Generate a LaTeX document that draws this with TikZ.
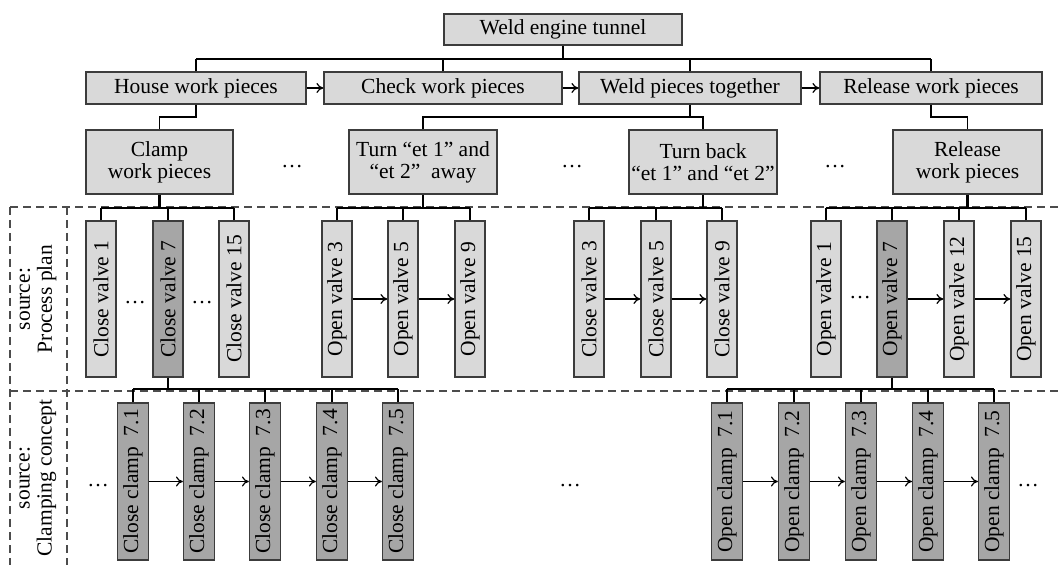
\documentclass[tikz,border=0pt]{standalone}
\usepackage{fontspec}
\setmainfont{Liberation Serif}
\usepackage{tikz}
\usetikzlibrary{arrows.meta, calc}
\definecolor{boxfill}{RGB}{217,217,217}
\definecolor{darkfill}{RGB}{166,166,166}
\definecolor{boxline}{RGB}{60,60,60}

\begin{document}
\begin{tikzpicture}[x=0.5pt, y=-0.5pt,
	box/.style={draw=boxline, fill=boxfill, line width=0.6pt, inner sep=0pt, align=center},
	stage/.style={box, minimum width=#1, minimum height=16pt},
	task/.style={box, minimum width=#1, minimum height=32pt},
	valve/.style={box, rotate=90, minimum width=78pt, minimum height=15pt},
	keyvalve/.style={valve, fill=darkfill},
	clampbox/.style={valve, fill=darkfill, minimum width=78.5pt, minimum height=15.5pt},
	link/.style={line width=0.6pt},
	trunk/.style={line width=1.2pt},
	flow/.style={line width=0.6pt, -{To[length=3.5pt, width=5pt]}},
	sep/.style={dash pattern=on 4pt off 2.5pt, draw=black!70, line width=0.6pt},
	source/.style={rotate=90, align=center, inner sep=0pt},
	gap/.style={inner sep=0pt}]

	\fontsize{10.75}{11}\selectfont
	\useasboundingbox (0,0) rectangle (1058,565);

	% bus heights between the levels
	\coordinate (bus0) at (0,59);
	\coordinate (bus1) at (0,117);
	\coordinate (bus2) at (0,208);
	\coordinate (bus3) at (0,389);

	% dashed frames of the two sources
	\coordinate (fa) at (10,207);
	\coordinate (fb) at (1058,207);
	\coordinate (fc) at (10,391);
	\coordinate (fd) at (1058,391);
	\coordinate (fe) at (10,565);
	\coordinate (ff) at (67,207);
	\coordinate (fg) at (67,565);
	\draw[sep] (fa) -- (fb);
	\draw[sep] (fc) -- (fd);
	\draw[sep] (fa) -- (fe);
	\draw[sep] (ff) -- (fg);

	\node[source] (pp) at (38,299) {source:\\Process plan};
	\node[source] (cc) at (38,478) {source:\\Clamping concept};

	% top and first level
	\node[box, minimum width=119pt, minimum height=15.5pt] (top) at (563,29.5) {Weld engine tunnel};
	\node[stage=110pt] (house) at (196,88) {House work pieces};
	\node[stage=119pt] (check) at (443,88) {Check work pieces};
	\node[stage=111pt] (weld) at (690,88) {Weld pieces together};
	\node[stage=111pt] (release) at (931,88) {Release work pieces};

	\draw[link] (top.south) -- (top.south |- bus0);
	\draw[link] (house.north |- bus0) -- (release.north |- bus0);
	\foreach \n in {house, check, weld, release}
		\draw[link] (\n.north) -- (\n.north |- bus0);
	\draw[flow] (house) -- (check);
	\draw[flow] (check) -- (weld);
	\draw[flow] (weld) -- (release);

	% second level
	\node[task=73.5pt] (clamp) at (159.5,162) {Clamp\\work pieces};
	\node[task=74pt] (turnaway) at (423,162) {Turn “et 1” and\\“et 2”\enspace away};
	\node[task=74pt] (turnback) at (703,162) {Turn back\\“et 1” and “et 2”};
	\node[task=74.5pt] (releasewp) at (967.5,162) {Release\\work pieces};
	\node[gap] (dots1) at (292,167) {\dots};
	\node[gap] (dots2) at (572,167) {\dots};
	\node[gap] (dots3) at (835,167) {\dots};

	\draw[link] (house.south) |- (clamp.north |- bus1) -- (clamp.north);
	\draw[link] (weld.south) -- (weld.south |- bus1);
	\draw[link] (turnaway.north) |- (turnback.north |- bus1) -- (turnback.north);
	\draw[link] (release.south) |- (releasewp.north |- bus1) -- (releasewp.north);

	% process plan (rotated boxes: east = top, west = bottom)
	\node[valve] (cv1) at (101,299) {Close valve 1};
	\node[keyvalve] (cv7) at (168,299) {Close valve 7};
	\node[valve] (cv15) at (234,299) {Close valve 15};
	\node[gap] (dots4) at (135,303) {\dots};
	\node[gap] (dots5) at (202,303) {\dots};

	\node[valve] (ov3) at (337,299) {Open valve 3};
	\node[valve] (ov5) at (403,299) {Open valve 5};
	\node[valve] (ov9) at (470,299) {Open valve 9};

	\node[valve] (cv3) at (589,299) {Close valve 3};
	\node[valve] (cv5) at (656,299) {Close valve 5};
	\node[valve] (cv9) at (722,299) {Close valve 9};

	\node[valve] (ov1) at (826,299) {Open valve 1};
	\node[keyvalve] (ov7) at (892,299) {Open valve 7};
	\node[valve] (ov12) at (959,299) {Open valve 12};
	\node[valve] (ov15) at (1026,299) {Open valve 15};
	\node[gap] (dots6) at (860,298) {\dots};

	\draw[trunk] (clamp.south) -- (clamp.south |- bus2);
	\draw[trunk] (turnaway.south) -- (turnaway.south |- bus2);
	\draw[trunk] (turnback.south) -- (turnback.south |- bus2);
	\draw[trunk] (releasewp.south) -- (releasewp.south |- bus2);
	\draw[link] (cv1.east |- bus2) -- (cv15.east |- bus2);
	\draw[link] (ov3.east |- bus2) -- (ov9.east |- bus2);
	\draw[link] (cv3.east |- bus2) -- (cv9.east |- bus2);
	\draw[link] (ov1.east |- bus2) -- (ov15.east |- bus2);
	\foreach \v in {cv1, cv7, cv15, ov3, ov5, ov9, cv3, cv5, cv9, ov1, ov7, ov12, ov15}
		\draw[link] (\v.east) -- (\v.east |- bus2);

	\draw[flow] (ov3) -- (ov5);
	\draw[flow] (ov5) -- (ov9);
	\draw[flow] (cv3) -- (cv5);
	\draw[flow] (cv5) -- (cv9);
	\draw[flow] (ov7) -- (ov12);
	\draw[flow] (ov12) -- (ov15);

	% clamping concept
	\foreach \i/\x in {1/133, 2/199, 3/265, 4/332, 5/398}
		\node[clampbox] (cc\i) at (\x,481.5) {Close clamp\enspace 7.\i};
	\foreach \i/\x in {1/727, 2/794, 3/861, 4/928, 5/994}
		\node[clampbox] (oc\i) at (\x,481.5) {Open clamp\enspace 7.\i};
	\node[gap] (dots7) at (98,486) {\dots};
	\node[gap] (dots8) at (570,486) {\dots};
	\node[gap] (dots9) at (1028,486) {\dots};

	\draw[trunk] (cv7.west) -- (cv7.west |- bus3);
	\draw[trunk] (ov7.west) -- (ov7.west |- bus3);
	\draw[link] (cc1.east |- bus3) -- (cc5.east |- bus3);
	\draw[link] (oc1.east |- bus3) -- (oc5.east |- bus3);
	\foreach \i in {1,...,5} {
		\draw[link] (cc\i.east) -- (cc\i.east |- bus3);
		\draw[link] (oc\i.east) -- (oc\i.east |- bus3);
	}
	\foreach \i/\j in {1/2, 2/3, 3/4, 4/5} {
		\draw[flow] (cc\i) -- (cc\j);
		\draw[flow] (oc\i) -- (oc\j);
	}

\end{tikzpicture}
\end{document}
